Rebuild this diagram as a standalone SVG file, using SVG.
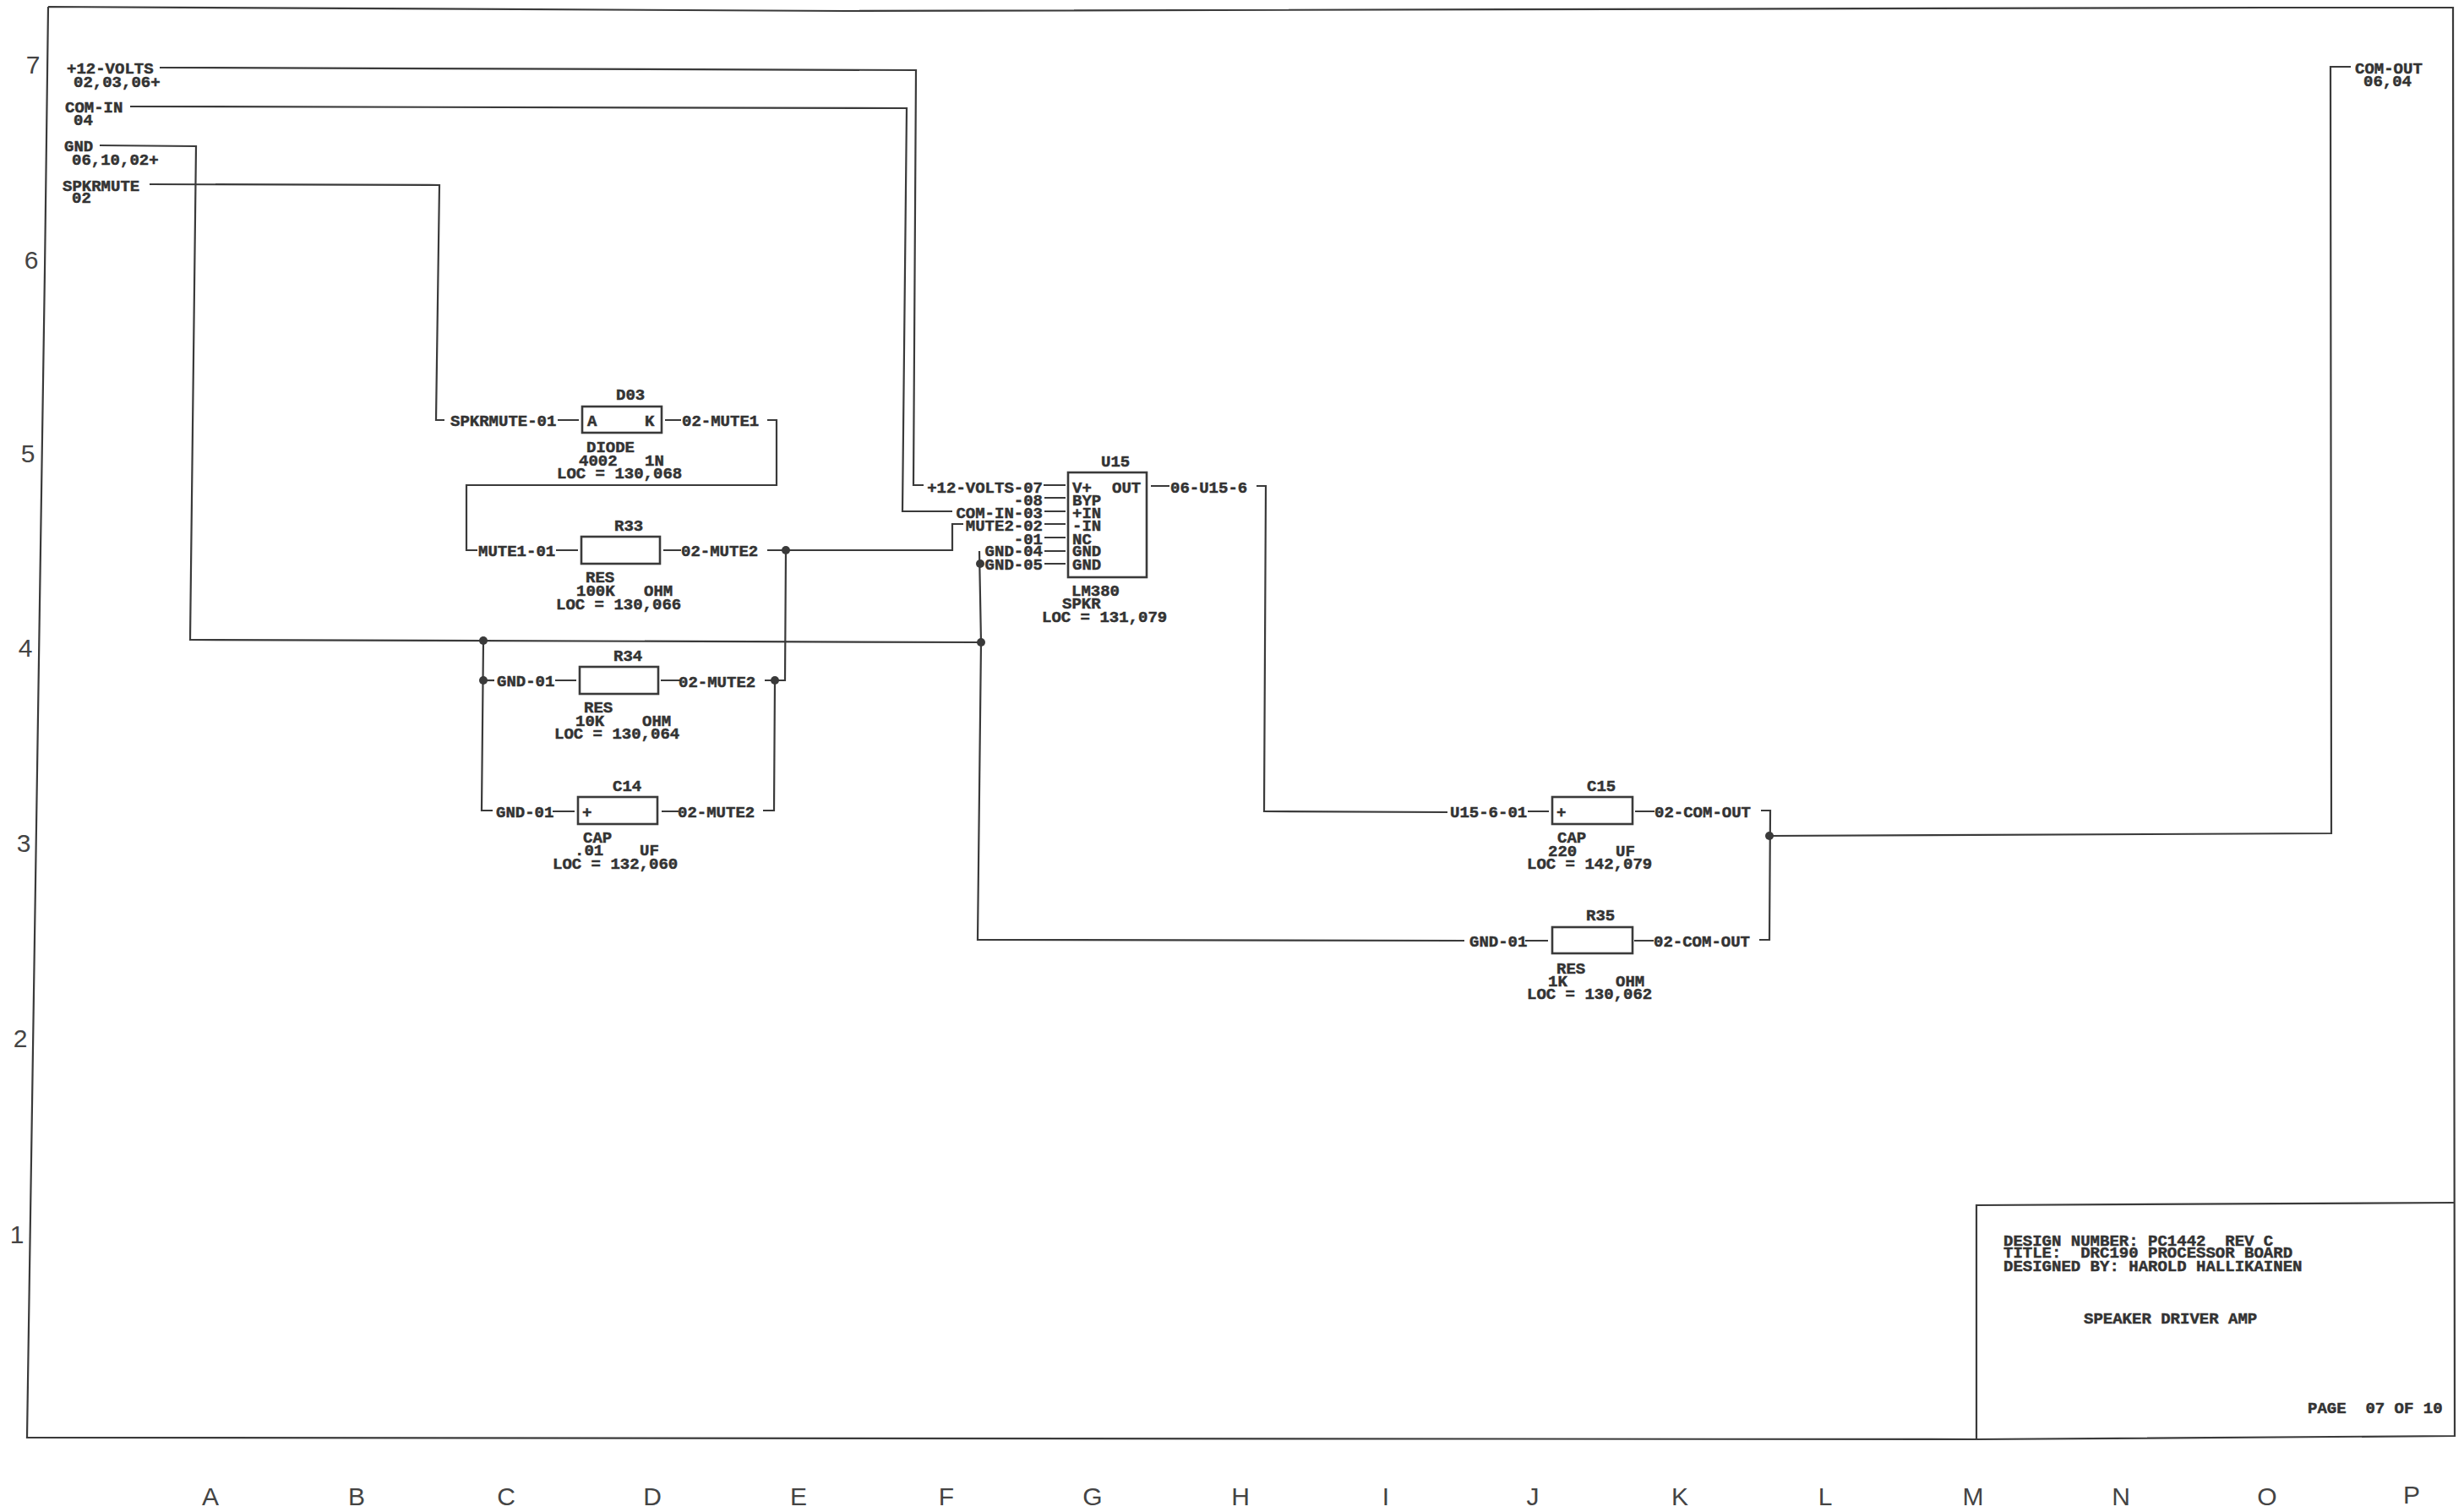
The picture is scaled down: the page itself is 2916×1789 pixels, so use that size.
<svg xmlns="http://www.w3.org/2000/svg" width="2916" height="1789" viewBox="0 0 2916 1789">
<style>
.w{fill:none;stroke:#3a3a3a;stroke-width:2.2;stroke-linejoin:miter}
.b{fill:none;stroke:#3a3a3a;stroke-width:2.6}
.d{fill:#3a3a3a}
text{font-family:"Liberation Mono","DejaVu Sans Mono",monospace;font-weight:700;font-size:19px;fill:#333;stroke:#333;stroke-width:.5;white-space:pre}
.e{text-anchor:end}
.a{font-family:"Liberation Sans","Arimo",sans-serif;font-weight:400;font-size:30px;fill:#444;stroke:none;text-anchor:middle}
</style>
<rect width="2916" height="1789" fill="#fff"/>
<g id="sheet-frame">
<path class="w" d="M57 8L1000 13L2680 9L2903 9L2905 1699L2339 1703L32 1701L53 320L57 8"/>
<path class="w" d="M2339 1704V1426L2905 1423"/>
</g>
<g id="axis-labels">
<text class="a" x="39" y="87">7</text><text class="a" x="37" y="318">6</text><text class="a" x="33" y="547">5</text><text class="a" x="30" y="777">4</text><text class="a" x="28" y="1008">3</text><text class="a" x="24" y="1239">2</text><text class="a" x="20" y="1471">1</text>
<text class="a" x="249" y="1781">A</text><text class="a" x="422" y="1781">B</text><text class="a" x="599" y="1781">C</text><text class="a" x="772" y="1781">D</text><text class="a" x="945" y="1781">E</text><text class="a" x="1120" y="1781">F</text><text class="a" x="1293" y="1781">G</text><text class="a" x="1468" y="1781">H</text><text class="a" x="1640" y="1781">I</text><text class="a" x="1814" y="1781">J</text><text class="a" x="1988" y="1781">K</text><text class="a" x="2160" y="1781">L</text><text class="a" x="2335" y="1781">M</text><text class="a" x="2510" y="1781">N</text><text class="a" x="2683" y="1781">O</text><text class="a" x="2854" y="1779">P</text>
</g>
<g id="connectors">
<path class="w" d="M189 80L1084 83L1081 574H1093"/>
<path class="w" d="M154 126L1073 128L1068 605H1127"/>
<path class="w" d="M118 172L232 173L225 757L1161 760"/>
<path class="w" d="M177 218L520 219L516 497H526"/>
<path class="w" d="M1159 652L1161 760L1157 1112L1733 1113"/>
<path class="w" d="M908 497H919V574H552V651H565"/>
<path class="w" d="M908 651H1127V620H1140"/>
<path class="w" d="M930 651L929 805H905"/>
<path class="w" d="M917 805L916 959H903"/>
<path class="w" d="M572 758L570 959H583"/>
<path class="w" d="M572 805H585"/>
<path class="w" d="M660 497H685M787 497H806M658 651H684M785 651H806M657 805H682M782 805H805M654 960H680M783 960H803"/>
<path class="w" d="M1235 574H1261M1236 589H1261M1236 605H1261M1236 620H1261M1236 636H1261M1236 652H1261M1236 667H1261"/>
<path class="w" d="M1362 575H1384M1487 575H1498L1496 960L1713 961"/>
<path class="w" d="M1808 960H1833M1935 960H1958M1805 1113H1832M1934 1113H1957"/>
<path class="w" d="M2084 959H2095L2094 1112H2082"/>
<path class="w" d="M2094 989L2759 986L2758 79H2782"/>
<circle class="d" cx="930" cy="651" r="5"/><circle class="d" cx="917" cy="805" r="5"/><circle class="d" cx="572" cy="758" r="5"/><circle class="d" cx="572" cy="805" r="5"/><circle class="d" cx="1161" cy="760" r="5"/><circle class="d" cx="1160" cy="667" r="5"/><circle class="d" cx="2094" cy="989" r="5"/>
</g>
<g id="port-12-volts"><text x="79" y="87">+12-VOLTS</text><text x="87" y="103">02,03,06+</text></g>
<g id="port-com-in"><text x="77" y="133">COM-IN</text><text x="87" y="148">04</text></g>
<g id="port-gnd"><text x="76" y="179">GND</text><text x="85" y="195">06,10,02+</text></g>
<g id="port-spkrmute"><text x="74" y="226">SPKRMUTE</text><text x="85" y="240">02</text></g>
<g id="port-com-out"><text x="2787" y="87">COM-OUT</text><text x="2797" y="102">06,04</text></g>
<g id="D03">
<rect class="b" x="689" y="481" width="94" height="31"/>
<text x="729" y="473">D03</text><text x="533" y="504">SPKRMUTE-01</text><text x="695" y="504">A</text><text x="763" y="504">K</text><text x="807" y="504">02-MUTE1</text>
<text x="694" y="535">DIODE</text><text x="685" y="551">4002</text><text x="763" y="551">1N</text><text x="659" y="566">LOC = 130,068</text>
</g>
<g id="R33">
<rect class="b" x="688" y="635" width="93" height="32"/>
<text x="727" y="628">R33</text><text x="566" y="658">MUTE1-01</text><text x="806" y="658">02-MUTE2</text>
<text x="693" y="689">RES</text><text x="682" y="705">100K</text><text x="762" y="705">OHM</text><text x="658" y="721">LOC = 130,066</text>
</g>
<g id="R34">
<rect class="b" x="686" y="789" width="93" height="32"/>
<text x="726" y="782">R34</text><text x="588" y="812">GND-01</text><text x="803" y="813">02-MUTE2</text>
<text x="691" y="843">RES</text><text x="681" y="859">10K</text><text x="760" y="859">OHM</text><text x="656" y="874">LOC = 130,064</text>
</g>
<g id="C14">
<rect class="b" x="684" y="943" width="94" height="32"/>
<text x="725" y="936">C14</text><text x="587" y="967">GND-01</text><text x="689" y="967">+</text><text x="802" y="967">02-MUTE2</text>
<text x="690" y="997">CAP</text><text x="680" y="1012">.01</text><text x="757" y="1012">UF</text><text x="654" y="1028">LOC = 132,060</text>
</g>
<g id="U15">
<rect class="b" x="1264" y="559" width="93" height="124"/>
<text x="1303" y="552">U15</text>
<text class="e" x="1234" y="583">+12-VOLTS-07</text><text class="e" x="1234" y="598">-08</text><text class="e" x="1234" y="613">COM-IN-03</text><text class="e" x="1234" y="628">MUTE2-02</text><text class="e" x="1234" y="644">-01</text><text class="e" x="1234" y="658">GND-04</text><text class="e" x="1234" y="674">GND-05</text>
<text x="1269" y="583">V+</text><text x="1269" y="598">BYP</text><text x="1269" y="613">+IN</text><text x="1269" y="628">-IN</text><text x="1269" y="644">NC</text><text x="1269" y="658">GND</text><text x="1269" y="674">GND</text>
<text x="1316" y="583">OUT</text><text x="1385" y="583">06-U15-6</text>
<text x="1268" y="705">LM380</text><text x="1257" y="720">SPKR</text><text x="1233" y="736">LOC = 131,079</text>
</g>
<g id="C15">
<rect class="b" x="1837" y="943" width="95" height="32"/>
<text x="1878" y="936">C15</text><text x="1716" y="967">U15-6-01</text><text x="1842" y="967">+</text><text x="1958" y="967">02-COM-OUT</text>
<text x="1843" y="997">CAP</text><text x="1832" y="1013">220</text><text x="1912" y="1013">UF</text><text x="1807" y="1028">LOC = 142,079</text>
</g>
<g id="R35">
<rect class="b" x="1837" y="1097" width="95" height="31"/>
<text x="1877" y="1089">R35</text><text x="1739" y="1120">GND-01</text><text x="1957" y="1120">02-COM-OUT</text>
<text x="1842" y="1152">RES</text><text x="1832" y="1167">1K</text><text x="1912" y="1167">OHM</text><text x="1807" y="1182">LOC = 130,062</text>
</g>
<g id="title-block">
<text x="2371" y="1474">DESIGN NUMBER: PC1442  REV C</text>
<text x="2371" y="1488">TITLE:  DRC190 PROCESSOR BOARD</text>
<text x="2371" y="1504">DESIGNED BY: HAROLD HALLIKAINEN</text>
<text x="2466" y="1566">SPEAKER DRIVER AMP</text>
<text x="2731" y="1672">PAGE  07 OF 10</text>
</g>
</svg>
